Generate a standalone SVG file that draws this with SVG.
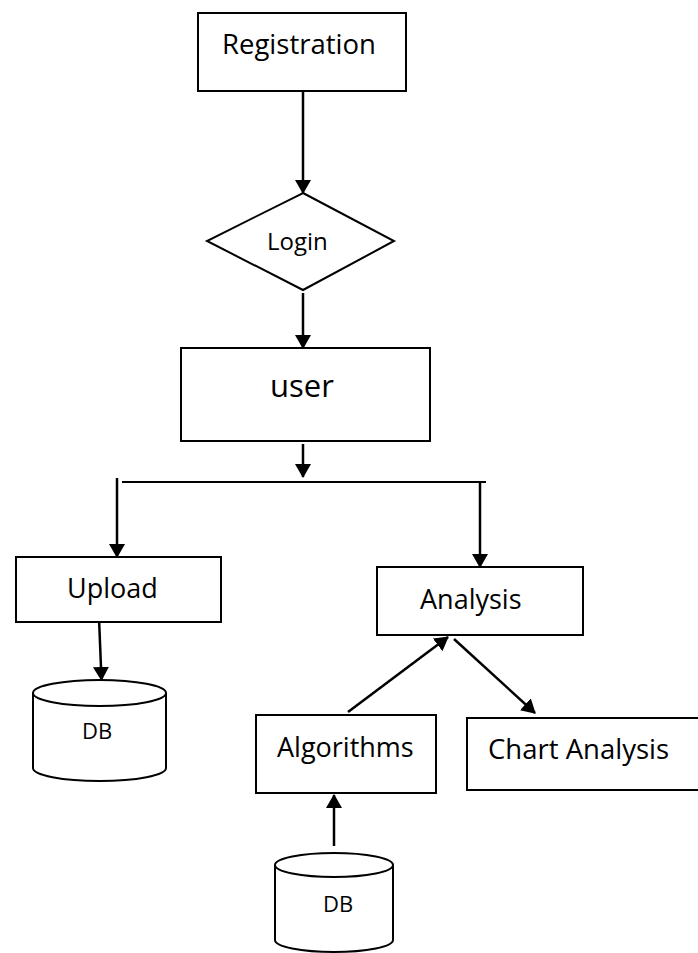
<svg xmlns="http://www.w3.org/2000/svg" width="698" height="953" viewBox="0 0 698 953">
<defs>
<marker id="ah" viewBox="0 0 14 16" refX="13" refY="8" markerWidth="14" markerHeight="16" markerUnits="userSpaceOnUse" orient="auto">
<path d="M0,0 L14,8 L0,16 z" fill="#000"/>
</marker>
<style>
.box{fill:#fff;stroke:#000;stroke-width:2}
.cyl{fill:#fff;stroke:#000;stroke-width:2}
.t{font-family:"Open Sans","Liberation Sans",sans-serif;fill:#000}
.c{fill:none;stroke:#000;stroke-width:2.2}
.a{fill:none;stroke:#000;stroke-width:2.5;marker-end:url(#ah)}
</style>
</defs>
<rect width="698" height="953" fill="#fff"/>
<g id="connectors">
<line class="a" x1="303" y1="91" x2="303" y2="193"/>
<line class="a" x1="303" y1="293" x2="303" y2="348"/>
<line class="a" x1="303" y1="444" x2="303" y2="477"/>
<line class="c" x1="122" y1="482" x2="486" y2="482"/>
<line class="a" x1="117" y1="478" x2="117" y2="557"/>
<line class="a" x1="480" y1="481" x2="480" y2="567"/>
<line class="a" x1="99" y1="618" x2="101.5" y2="680"/>
<line class="a" x1="348" y1="712" x2="448" y2="637"/>
<line class="a" x1="454" y1="639" x2="535" y2="713"/>
<line class="a" x1="334" y1="846" x2="334" y2="795"/>
</g>
<g id="registration">
<rect class="box" x="198" y="13" width="208" height="78"/>
<text class="t" x="222" y="54" font-size="27.5">Registration</text>
</g>
<g id="login">
<polygon class="box" points="303,193 394,241 303,290 207,241"/>
<text class="t" x="267" y="250" font-size="24">Login</text>
</g>
<g id="user">
<rect class="box" x="181" y="348" width="249" height="93"/>
<text class="t" x="270" y="397" font-size="31">user</text>
</g>
<g id="upload">
<rect class="box" x="16" y="557" width="205" height="65"/>
<text class="t" x="67" y="598" font-size="27">Upload</text>
</g>
<g id="db1">
<path class="cyl" d="M33,693 L33,768 A66.5,13 0 0 0 166,768 L166,693"/>
<ellipse class="cyl" cx="99.5" cy="693" rx="66.5" ry="13"/>
<text class="t" x="82" y="739" font-size="22">DB</text>
</g>
<g id="analysis">
<rect class="box" x="377" y="567" width="206" height="68"/>
<text class="t" x="420" y="609" font-size="27">Analysis</text>
</g>
<g id="algorithms">
<rect class="box" x="256" y="715" width="180" height="78"/>
<text class="t" x="277" y="757" font-size="27">Algorithms</text>
</g>
<g id="chart">
<rect class="box" x="467" y="718" width="233" height="72"/>
<text class="t" x="488" y="759" font-size="27.5">Chart Analysis</text>
</g>
<g id="db2">
<path class="cyl" d="M275,865 L275,940 A59,12 0 0 0 393,940 L393,865"/>
<ellipse class="cyl" cx="334" cy="865" rx="59" ry="12"/>
<text class="t" x="323" y="912" font-size="22">DB</text>
</g>
</svg>
